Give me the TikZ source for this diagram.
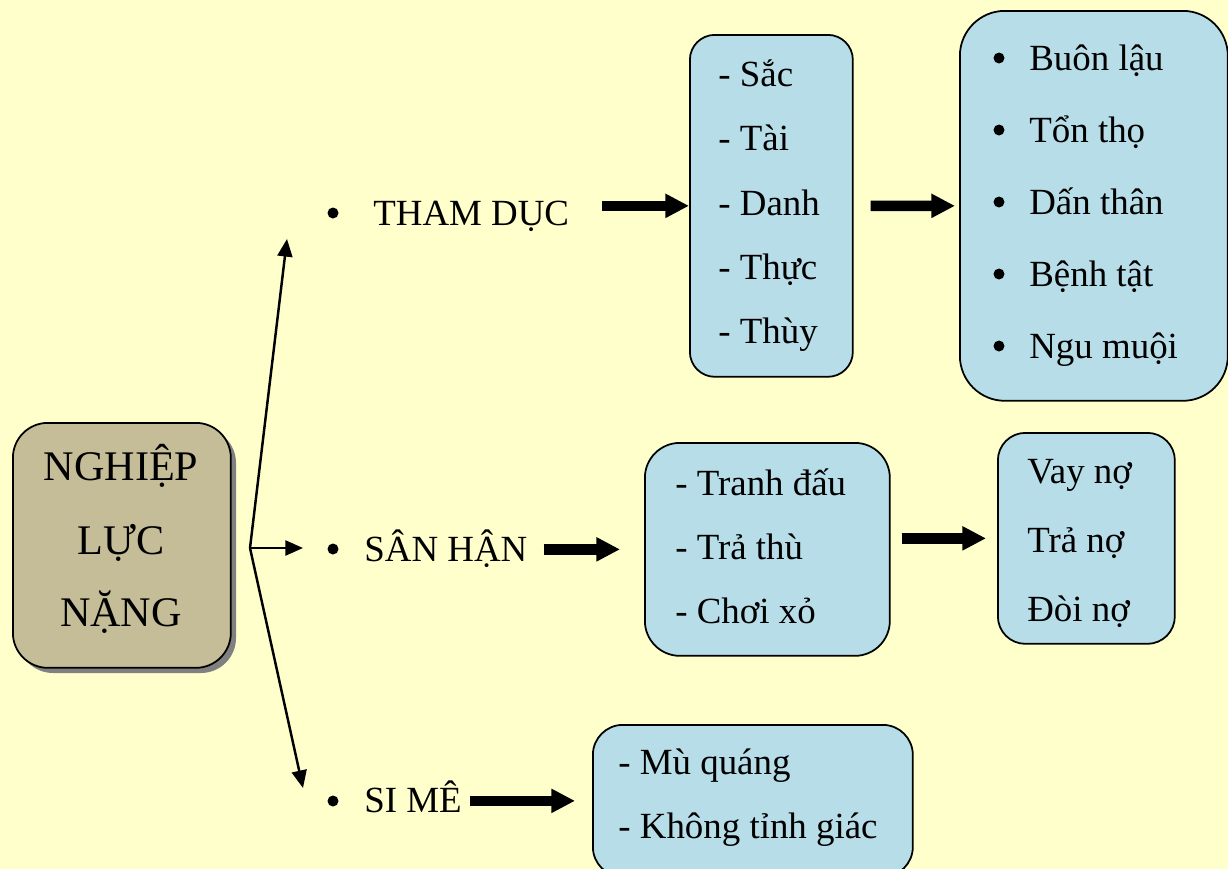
\documentclass[tikz,border=0pt]{standalone}
\usepackage{fontspec}
\setmainfont{Liberation Serif}
\usetikzlibrary{arrows.meta}
\definecolor{bgyellow}{HTML}{FFFFCC}
\definecolor{boxblue}{HTML}{B7DEE8}
\definecolor{boxtan}{HTML}{C4BD97}
\definecolor{shadowgray}{HTML}{808080}
\begin{document}
\begin{tikzpicture}[x=0.02cm,y=-0.02cm,
  txt/.style={anchor=base west, inner sep=0pt, font=\fontsize{21}{25}\selectfont},
  bigtxt/.style={anchor=base, inner sep=0pt, font=\fontsize{24}{28}\selectfont},
  bluebox/.style={draw=black, line width=1pt, fill=boxblue, anchor=north west, inner sep=0pt},
  tanbox/.style={draw=black, line width=1pt, fill=boxtan, anchor=north west, inner sep=0pt},
  thickarrow/.style={line width=6pt, -{Triangle[length=13.5pt,width=13pt]}},
  thinarrow/.style={line width=1.4pt, -{Triangle[length=10pt,width=8.5pt]}},
  dot/.style={circle, fill=black, inner sep=0pt, minimum size=0.22cm},
]
\useasboundingbox (0,0) rectangle (1228,869);
\fill[bgyellow] (0,0) rectangle (1228,869);
\begin{scope}
\clip (0,0) rectangle (1228,869);
% left box with shadow
\fill[shadowgray, rounded corners=0.7cm] (18,428) rectangle (236,673);
\node[tanbox, rounded corners=0.7cm, minimum width=4.36cm, minimum height=4.9cm] (nl) at (12,422) {};
\node[bigtxt] (nl1) at (121,480) {NGHIỆP};
\node[bigtxt] (nl2) at (121,554) {LỰC};
\node[bigtxt] (nl3) at (121,626) {NẶNG};

% boxes
\node[bluebox, rounded corners=0.5cm, minimum width=3.26cm, minimum height=6.84cm] (b1) at (689,34) {};
\node[bluebox, rounded corners=0.9cm, minimum width=5.36cm, minimum height=7.8cm] (b2) at (959,10) {};
\node[bluebox, rounded corners=0.7cm, minimum width=4.9cm, minimum height=4.26cm] (b3) at (644,442) {};
\node[bluebox, rounded corners=0.55cm, minimum width=3.54cm, minimum height=4.22cm] (b4) at (997,432) {};
\node[bluebox, rounded corners=0.6cm, minimum width=6.4cm, minimum height=3.04cm] (b5) at (592,724) {};

% middle labels
\node[dot] (d1) at (333,213) {};
\node[txt] (tham) at (373,225) {THAM DỤC};
\node[dot] (d2) at (333,549) {};
\node[txt] (sh) at (364,561) {SÂN HẬN};
\node[dot] (d3) at (333,801) {};
\node[txt] (sm) at (364,812) {SI MÊ};

% box 1 text
\node[txt] (t11) at (718,86) {- Sắc};
\node[txt] (t12) at (718,150) {- Tài};
\node[txt] (t13) at (718,215) {- Danh};
\node[txt] (t14) at (718,279) {- Thực};
\node[txt] (t15) at (718,343) {- Thùy};

% box 2 text
\node[dot] (e1) at (999,58) {};
\node[txt] (t21) at (1029,70) {Buôn lậu};
\node[dot] (e2) at (999,130) {};
\node[txt] (t22) at (1029,142) {Tổn thọ};
\node[dot] (e3) at (999,202) {};
\node[txt] (t23) at (1029,214) {Dấn thân};
\node[dot] (e4) at (999,274) {};
\node[txt] (t24) at (1029,286) {Bệnh tật};
\node[dot] (e5) at (999,346) {};
\node[txt] (t25) at (1029,358) {Ngu muội};

% box 3 text
\node[txt] (t31) at (675,495) {- Tranh đấu};
\node[txt] (t32) at (675,559) {- Trả thù};
\node[txt] (t33) at (675,623) {- Chơi xỏ};

% box 4 text
\node[txt] (t41) at (1027,483) {Vay nợ};
\node[txt] (t42) at (1027,552) {Trả nợ};
\node[txt] (t43) at (1027,621) {Đòi nợ};

% box 5 text
\node[txt] (t51) at (618,774) {- Mù quáng};
\node[txt] (t52) at (618,838) {- Không tỉnh giác};

% thin arrows
\coordinate (fork) at (250,548);
\coordinate (upend) at (287,239);
\coordinate (midend) at (303,548);
\coordinate (downend) at (303,788);
\draw[thinarrow] (fork) -- (upend);
\draw[thinarrow] (fork) -- (midend);
\draw[thinarrow] (fork) -- (downend);

% thick arrows
\draw[thickarrow, shorten <=0.66cm] (tham.east |- b1.west) -- (b1.west);
\draw[thickarrow, shorten <=0.34cm, shorten >=0.08cm] (b1.east) -- (b2.west);
\draw[thickarrow, shorten <=0.32cm, shorten >=0.48cm] (sh.east |- b3.west) -- (b3.west);
\draw[thickarrow, shorten <=0.22cm, shorten >=0.22cm] (b3.east |- b4.west) -- (b4.west);
\draw[thickarrow, shorten <=0.16cm, shorten >=0.34cm] (sm.east |- b5.west) -- (b5.west);
\end{scope}
\end{tikzpicture}
\end{document}
